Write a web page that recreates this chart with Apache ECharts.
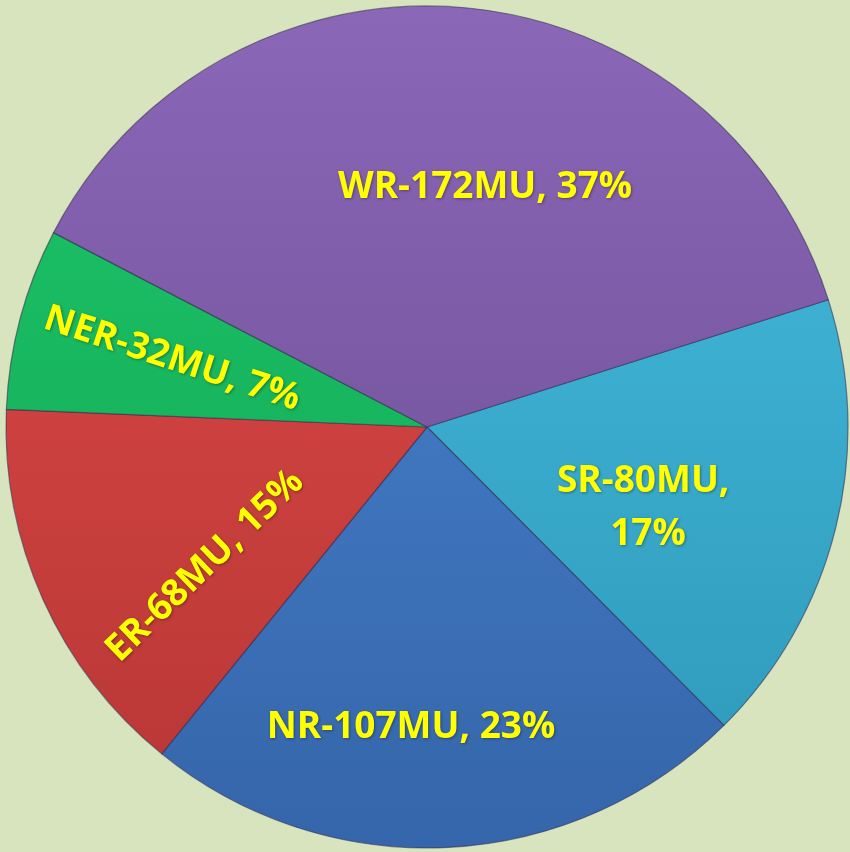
<!DOCTYPE html>
<html>
	<head>
		<meta charset="utf-8" />
		<title>Regional MU share</title>
		<script src="https://cdn.jsdelivr.net/npm/echarts@6/dist/echarts.min.js" type="text/javascript" charset="utf-8"></script>
		<style type="text/css">
			html, body {
				margin: 0;
				padding: 0;
				background: #d7e4bd;
			}
			#main {
				width: 850px;
				height: 852px;
			}
		</style>
	</head>
	<body>
		<div id="main"></div>
		<script type="text/javascript">
			// data, clockwise from the SR/WR border
			var regions = ['SR', 'NR', 'ER', 'NER', 'WR'];
			var values = [80, 107, 68, 32, 172];

			// slice colours: light (top of pie) -> dark (bottom)
			var topColors = ['#45bde0', '#4a88d4', '#e24c4a', '#1ec66a', '#8b67b8'];
			var bottomColors = ['#2e98b8', '#3565aa', '#b63634', '#10a452', '#684a8e'];

			// label placement (offset from pie centre) and rotation
			var labelPos = [
				{ dx: 221, dy: 81, rot: 0, width: 200 },
				{ dx: -16, dy: 300, rot: 0 },
				{ dx: -222, dy: 139, rot: 44 },
				{ dx: -255, dy: -68, rot: -18 },
				{ dx: 58, dy: -240, rot: 0 }
			];

			var cx = 427, cy = 427;

			var myChart = echarts.init(document.getElementById('main'));

			var data = regions.map(function(name, i) {
				var item = {
					name: name,
					value: values[i],
					itemStyle: {
						color: {
							type: 'linear',
							x: 0, y: 6, x2: 0, y2: 848,
							global: true,
							colorStops: [
								{ offset: 0, color: topColors[i] },
								{ offset: 1, color: bottomColors[i] }
							]
						}
					}
				};
				if (labelPos[i].width) {
					item.label = { width: labelPos[i].width, overflow: 'break' };
				}
				return item;
			});

			var option = {
				backgroundColor: '#d7e4bd',
				animation: false,
				series: [{
					type: 'pie',
					center: [cx, cy],
					radius: 421,
					startAngle: 17.6,
					clockwise: true,
					avoidLabelOverlap: false,
					itemStyle: {
						borderColor: 'rgba(50, 40, 80, 0.55)',
						borderWidth: 1.2
					},
					label: {
						show: true,
						position: 'inside',
						color: '#ffff00',
						fontFamily: 'Open Sans',
						fontWeight: 'bold',
						fontSize: 37,
						lineHeight: 53,
						align: 'center',
						textShadowColor: 'rgba(0,0,0,0.35)',
						textShadowBlur: 3,
						textShadowOffsetX: 1,
						textShadowOffsetY: 1,
						formatter: function(p) {
							return p.name + '-' + p.value + 'MU, ' + Math.round(p.percent) + '%';
						}
					},
					labelLine: { show: false },
					labelLayout: function(params) {
						var lp = labelPos[params.dataIndex];
						return {
							x: cx + lp.dx,
							y: cy + lp.dy,
							rotate: lp.rot,
							align: 'center',
							verticalAlign: 'middle'
						};
					},
					data: data
				}]
			};
			myChart.setOption(option);
		</script>
	</body>
</html>
